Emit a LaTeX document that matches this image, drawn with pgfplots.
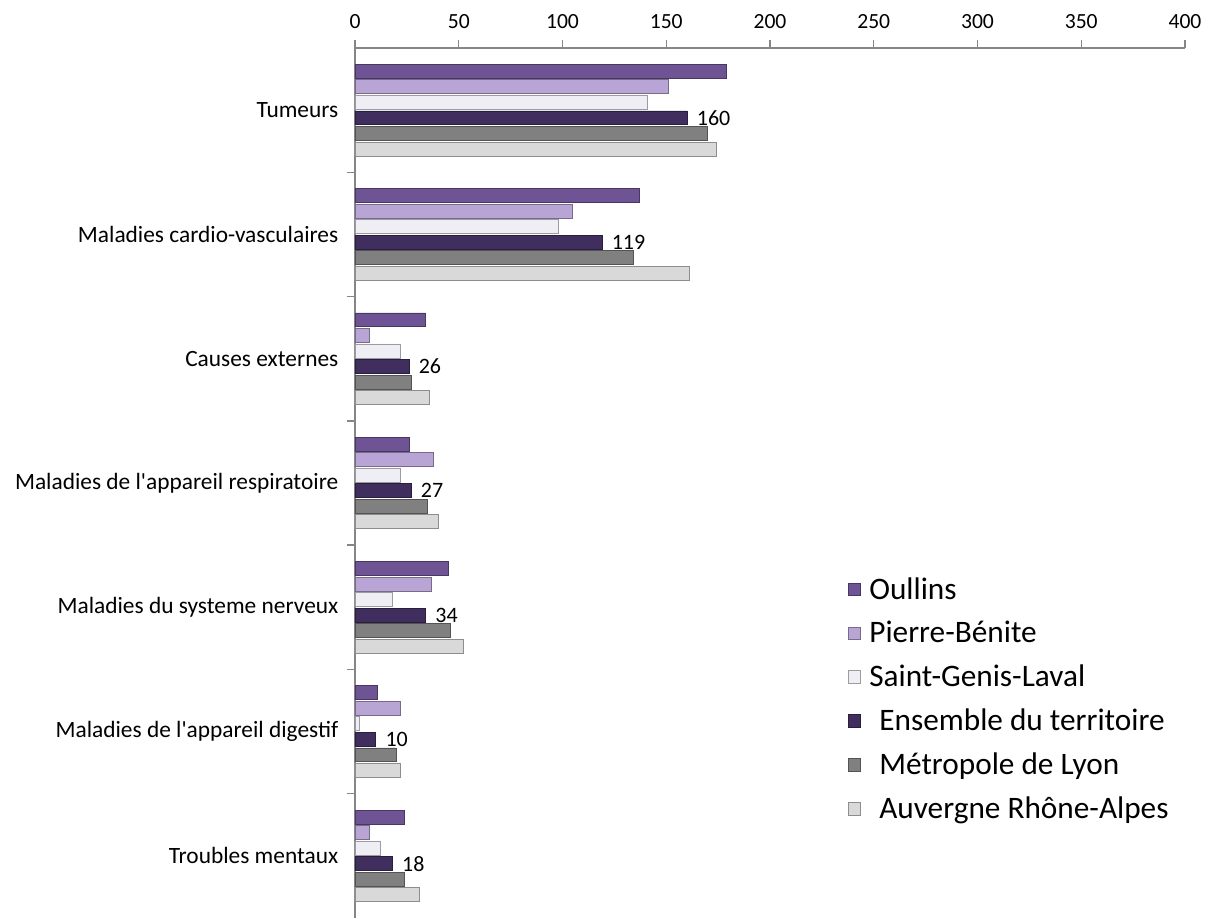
\documentclass[border=0pt]{standalone}
\usepackage{fontspec}
\setmainfont{Carlito}
\newfontfamily\calibri{Carlito}
\usepackage{pgfplots}
\usepackage{pgfplotstable}
\pgfplotsset{compat=1.18}

\definecolor{oullins}{HTML}{6E5494}
\definecolor{pierre}{HTML}{B8A5D5}
\definecolor{sgl}{HTML}{F0EEF5}
\definecolor{ensemble}{HTML}{3F2E5E}
\definecolor{metro}{HTML}{808080}
\definecolor{ara}{HTML}{D9D9D9}
\definecolor{axisgray}{HTML}{868686}

% taux par cause, une ligne par categorie (0 = Tumeurs ... 6 = Troubles mentaux)
\pgfplotstableread{
cat oul pb  sgl ens met ara
0   179 151 141 160 170 174
1   137 105 98  119 134 161
2   34  7   22  26  27  36
3   26  38  22  27  35  40
4   45  37  18  34  46  52
5   11  22  2   10  20  22
6   24  7   12  18  24  31
}\data

\tikzset{bev/.style={draw=#1!65!black, line width=0.45pt, fill=#1}}

\begin{document}
\begin{tikzpicture}
\begin{axis}[
  name=ax,
  scale only axis, width=16.6cm, height=17.4cm,
  xbar, bar width=0.112,
  xmin=0, xmax=400, xtick={0,50,...,400},
  ymin=-0.5, ymax=6.5, y dir=reverse,
  ytick={0,...,6},
  yticklabels={Tumeurs, Maladies cardio-vasculaires, Causes externes,
    Maladies de l'appareil respiratoire, Maladies du systeme nerveux,
    Maladies de l'appareil digestif, Troubles mentaux},
  minor ytick={0.5,1.5,...,5.5},
  axis x line*=top, axis y line*=left,
  axis line style={axisgray, line width=0.85pt},
  tick align=outside,
  major tick length=0.16cm, minor tick length=0.16cm,
  tick style={axisgray, line width=0.85pt},
  major y tick style={draw=none},
  xticklabel style={font=\fontsize{12.3}{14}\selectfont, yshift=0.1cm},
  yticklabel style={font=\calibri\fontsize{13.3}{15}\selectfont, xshift=-0.05cm},
  /pgf/number format/assume math mode=true,
  legend image code/.code={\draw[#1] (0cm,-0.125cm) rectangle (0.25cm,0.125cm);},
  legend style={at={(rel axis cs:0.593,0.396)}, anchor=north west,
    draw=none, fill=none, font=\fontsize{17.8}{20}\selectfont,
    row sep=0.25cm, inner sep=0pt,
    /tikz/every odd column/.append style={column sep=0.1cm}},
  legend cell align=left,
]
\addplot[bev=oullins,  bar shift=-0.3125] table[x=oul, y=cat] {\data};
\addplot[bev=pierre,   bar shift=-0.1875] table[x=pb,  y=cat] {\data};
\addplot[bev=sgl,      bar shift=-0.0625] table[x=sgl, y=cat] {\data};
\addplot[bev=ensemble, bar shift=0.0625]  table[x=ens, y=cat] {\data};
\addplot[bev=metro,    bar shift=0.1875]  table[x=met, y=cat] {\data};
\addplot[bev=ara,      bar shift=0.3125]  table[x=ara, y=cat] {\data};
% etiquettes de l'ensemble du territoire
\addplot[draw=none, fill=none, bar shift=0.0625, forget plot,
  nodes near coords,
  nodes near coords style={font=\fontsize{12.5}{14}\selectfont, black, anchor=west, inner sep=2pt, xshift=0.12cm}]
  table[x=ens, y=cat] {\data};
\legend{Oullins, Pierre-Bénite, Saint-Genis-Laval,
  \hspace{0.2cm}Ensemble du territoire, \hspace{0.2cm}Métropole de Lyon,
  \hspace{0.2cm}Auvergne Rhône-Alpes}
\end{axis}
\path (ax.south west) ++(-7.1cm,0) coordinate (bl);
\path (ax.north east) ++(0.54cm,0.96cm) coordinate (tr);
\path (bl) rectangle (tr);
\end{tikzpicture}
\end{document}
